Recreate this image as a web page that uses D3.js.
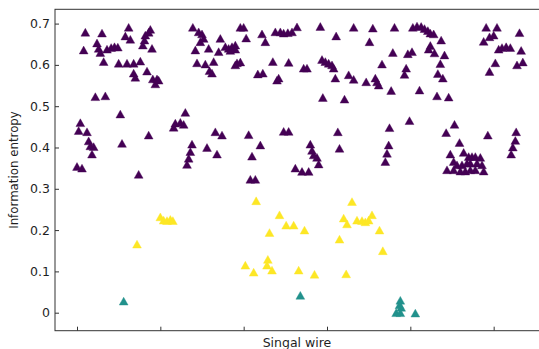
<!DOCTYPE html>
<html>
<head>
<meta charset="utf-8">
<script src="https://cdn.jsdelivr.net/npm/d3@7"></script>
<style>
  html, body { margin: 0; padding: 0; background: #fff; }
  svg { display: block; }
  text { font-family: "DejaVu Sans", sans-serif; fill: #1f1f1f; }
</style>
</head>
<body>
<svg id="chart" width="539" height="349"></svg>
<script>
// Wire index and information entropy for each cluster
const purpleX = [10, 8, 30, 24, 26, 28, 32, 36, 41, 45, 49, 62, 58, 64, 50, 60, 68, 76, 68, 70,
  84, 79, 81, 82, 86, 88, 90, 91, 96, 94, 98, 22, 34, 4, 2, 12, 14, 16, 20, 18,
  0, 6, 52, 54, 86, 74, 116, 118, 124, 128, 130,
  139, 146, 150, 152, 148, 142, 158, 172, 170, 178, 182, 186, 190, 190, 184, 196, 200, 203, 222,
  226, 238, 244, 248, 253, 258, 264, 292, 311, 144, 154, 164, 159, 162, 192, 196, 190, 217, 223, 240,
  242, 235, 254, 272, 276, 294, 298, 302, 306, 308, 310, 326, 295, 321,
  166, 174, 206, 248, 254, 313, 138, 136, 134, 132, 156, 168, 220, 210, 280, 282, 284, 288, 290, 315,
  262, 270, 278, 208, 214,
  332, 355, 381, 403, 408, 413, 417, 421, 424, 428, 351, 437, 379, 397, 402, 424, 422, 429, 441, 366,
  395, 393, 436, 433, 439, 332, 347, 358, 360, 362, 377, 411, 432, 446,
  491, 504, 500, 495, 488, 506, 510, 515, 520, 531, 533, 502, 495, 528, 535,
  375, 399, 374, 372, 370, 453, 443, 459, 493, 527, 526, 523, 521,
  448, 464, 452, 470, 474, 478, 484, 456, 462, 468, 472, 480, 486, 444, 452, 460, 466, 472, 478, 488];
const purpleY = [0.679, 0.636, 0.677, 0.653, 0.640, 0.630, 0.608, 0.638, 0.642, 0.644, 0.643, 0.691, 0.670, 0.662, 0.604, 0.604, 0.604, 0.609, 0.580, 0.570,
  0.585, 0.648, 0.660, 0.672, 0.679, 0.686, 0.640, 0.566, 0.566, 0.554, 0.563, 0.523, 0.525, 0.460, 0.441, 0.438, 0.416, 0.404, 0.402, 0.384,
  0.354, 0.350, 0.481, 0.410, 0.430, 0.335, 0.449, 0.459, 0.461, 0.456, 0.485,
  0.691, 0.680, 0.675, 0.664, 0.656, 0.636, 0.640, 0.664, 0.632, 0.644, 0.640, 0.644, 0.648, 0.638, 0.635, 0.691, 0.691, 0.665, 0.675,
  0.656, 0.680, 0.680, 0.677, 0.678, 0.680, 0.692, 0.693, 0.670, 0.605, 0.602, 0.608, 0.586, 0.580, 0.605, 0.607, 0.600, 0.578, 0.580, 0.563,
  0.568, 0.608, 0.606, 0.592, 0.592, 0.613, 0.608, 0.604, 0.600, 0.592, 0.568, 0.576, 0.521, 0.517,
  0.438, 0.430, 0.431, 0.439, 0.439, 0.438, 0.408, 0.390, 0.374, 0.359, 0.400, 0.384, 0.406, 0.379, 0.408, 0.393, 0.382, 0.376, 0.360, 0.398,
  0.350, 0.342, 0.342, 0.323, 0.323,
  0.691, 0.689, 0.691, 0.691, 0.694, 0.693, 0.688, 0.683, 0.677, 0.675, 0.656, 0.660, 0.630, 0.627, 0.632, 0.647, 0.638, 0.629, 0.624, 0.602,
  0.592, 0.577, 0.603, 0.579, 0.568, 0.565, 0.559, 0.568, 0.559, 0.551, 0.538, 0.539, 0.525, 0.522,
  0.691, 0.691, 0.672, 0.668, 0.657, 0.638, 0.642, 0.644, 0.642, 0.678, 0.635, 0.605, 0.584, 0.600, 0.607,
  0.448, 0.465, 0.406, 0.386, 0.366, 0.456, 0.436, 0.412, 0.430, 0.438, 0.417, 0.401, 0.384,
  0.384, 0.388, 0.366, 0.378, 0.378, 0.378, 0.376, 0.358, 0.358, 0.362, 0.362, 0.362, 0.358, 0.346, 0.346, 0.343, 0.343, 0.346, 0.346, 0.343];

const yellowX = [100, 104, 108, 112, 115, 72, 215, 243, 251, 260, 231, 273, 202, 212, 229, 228, 234, 266, 285,
  320, 324, 315, 323, 330, 336, 342, 346, 350, 354, 363, 367];
const yellowY = [0.232, 0.224, 0.223, 0.226, 0.223, 0.166, 0.271, 0.237, 0.212, 0.212, 0.194, 0.200, 0.115, 0.098, 0.129, 0.115, 0.103, 0.103, 0.093,
  0.229, 0.215, 0.178, 0.094, 0.269, 0.224, 0.223, 0.220, 0.224, 0.237, 0.200, 0.150];

const tealX = [56, 268, 388, 387, 389, 383, 388, 406];
const tealY = [0.028, 0.042, 0.030, 0.019, 0.013, 0.000, 0.000, -0.001];

const yTicks = [0, 0.1, 0.2, 0.3, 0.4, 0.5, 0.6, 0.7];
const xTicks = [0, 100, 200, 300, 400, 500];

const series = [
  { color: "#440154", xs: purpleX, ys: purpleY },
  { color: "#fde725", xs: yellowX, ys: yellowY },
  { color: "#21918c", xs: tealX, ys: tealY }
];

const plot = { left: 55, top: 9.3, right: 541, bottom: 330.7 };

const x = d3.scaleLinear().domain([-26.4, 556.8]).range([plot.left, plot.right]);
const y = d3.scaleLinear().domain([-0.0436, 0.7346]).range([plot.bottom, plot.top]);

const svg = d3.select("#chart");

// markers: upward triangles centred on the data point
const tw = 8.8, th = 7.8;
const tri = `M0,${-th / 2}L${tw / 2},${th / 2}L${-tw / 2},${th / 2}Z`;

const marks = svg.append("g");
series.forEach(s => {
  marks.append("g")
    .selectAll("path")
    .data(d3.zip(s.xs, s.ys))
    .join("path")
    .attr("d", tri)
    .attr("transform", d => `translate(${x(d[0])},${y(d[1])})`)
    .attr("fill", s.color)
    .attr("stroke", s.color)
    .attr("stroke-width", 0.4);
});

// axes with inward ticks
const yAxis = d3.axisLeft(y).tickValues(yTicks)
  .tickFormat(d => d === 0 ? "0" : d3.format(".1f")(d))
  .tickSizeInner(-4).tickSizeOuter(0).tickPadding(5);
const gy = svg.append("g").attr("transform", `translate(${plot.left},0)`).call(yAxis);
gy.select(".domain").remove();
gy.selectAll(".tick line").attr("stroke", "#333").attr("stroke-width", 1);
gy.selectAll(".tick text").attr("font-size", 12.5).attr("font-family", "DejaVu Sans").attr("fill", "#1f1f1f");

const xAxis = d3.axisBottom(x).tickValues(xTicks).tickFormat("")
  .tickSizeInner(-4).tickSizeOuter(0);
const gx = svg.append("g").attr("transform", `translate(0,${plot.bottom})`).call(xAxis);
gx.select(".domain").remove();
gx.selectAll(".tick line").attr("stroke", "#333").attr("stroke-width", 1);

// frame
svg.append("rect")
  .attr("x", plot.left).attr("y", plot.top)
  .attr("width", plot.right - plot.left).attr("height", plot.bottom - plot.top)
  .attr("fill", "none").attr("stroke", "#333").attr("stroke-width", 1);

// axis titles
svg.append("text")
  .attr("x", (plot.left + plot.right) / 2 - 1).attr("y", 346.5)
  .attr("text-anchor", "middle").attr("font-size", 12.5)
  .text("Singal wire");

svg.append("text")
  .attr("transform", `translate(18,${(plot.top + plot.bottom) / 2}) rotate(-90)`)
  .attr("text-anchor", "middle").attr("font-size", 11.8)
  .text("Information entropy");
</script>
</body>
</html>
